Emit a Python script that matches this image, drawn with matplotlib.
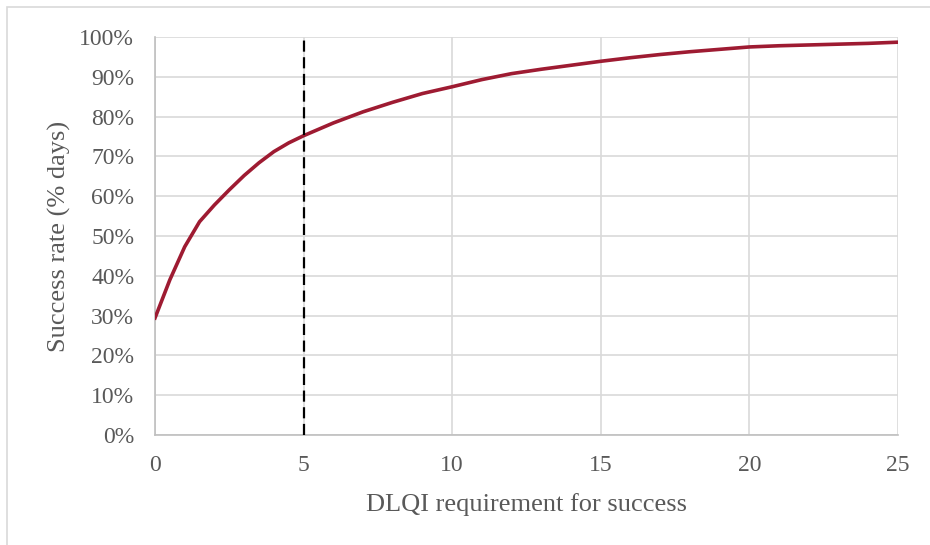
import numpy as np
import matplotlib.pyplot as plt
from matplotlib.patches import Rectangle
from matplotlib.ticker import FuncFormatter

# DLQI threshold vs success rate (% of days)
dlqi = [0, 0.5, 1, 1.5, 2, 2.5, 3, 3.5, 4, 4.5, 5, 6, 7, 8, 9, 10, 11, 12,
        13, 14, 15, 16, 17, 18, 19, 20, 21, 22, 23, 24, 25]
success = [29.4, 39.0, 47.3, 53.6, 57.8, 61.6, 65.2, 68.4, 71.2, 73.4, 75.2,
           78.4, 81.2, 83.6, 85.8, 87.5, 89.3, 90.8, 91.9, 92.9, 93.9, 94.8,
           95.6, 96.3, 96.9, 97.5, 97.8, 98.0, 98.2, 98.4, 98.7]
cutoff = 5

plt.rcParams['font.family'] = ['Liberation Serif', 'DejaVu Serif']
grey = '#595959'

fig = plt.figure(figsize=(9.3, 5.45), dpi=100)
ax = fig.add_axes([155/930, 1-435/545, (898-155)/930, (435-37)/545])

ax.plot(dlqi, success, color='#9E1B32', lw=2.6, solid_joinstyle='round', zorder=3)
ax.axvline(cutoff, color='black', lw=1.6, linestyle=(0, (5, 2.5)), zorder=4)

ax.set_xlim(0, 25)
ax.set_ylim(0, 100)
ax.set_xticks(range(0, 26, 5))
ax.set_yticks(range(0, 101, 10))
ax.yaxis.set_major_formatter(FuncFormatter(lambda v, p: f'{v:.0f}%'))
ax.grid(True, color='#d9d9d9', lw=1.2)
ax.set_axisbelow(True)
for s in ['top', 'right']:
    ax.spines[s].set_visible(False)
for s in ['left', 'bottom']:
    ax.spines[s].set_color('#bfbfbf')
    ax.spines[s].set_linewidth(1.2)
ax.tick_params(length=0, labelsize=17, colors=grey)
ax.tick_params(axis='x', pad=14.5)
ax.tick_params(axis='y', pad=15)

ax.set_xlabel('DLQI requirement for success', fontsize=19, color=grey, labelpad=12)
ax.set_ylabel('Success rate (% days)', fontsize=19, color=grey, labelpad=6)

# outer chart border (cut off at right and bottom)
fig.add_artist(Rectangle((7/930, -0.1), 1.2, 1 - 7/545 + 0.1, transform=fig.transFigure,
                         fill=False, edgecolor='#d9d9d9', lw=1.2))

fig.savefig('out.png', dpi=100)
